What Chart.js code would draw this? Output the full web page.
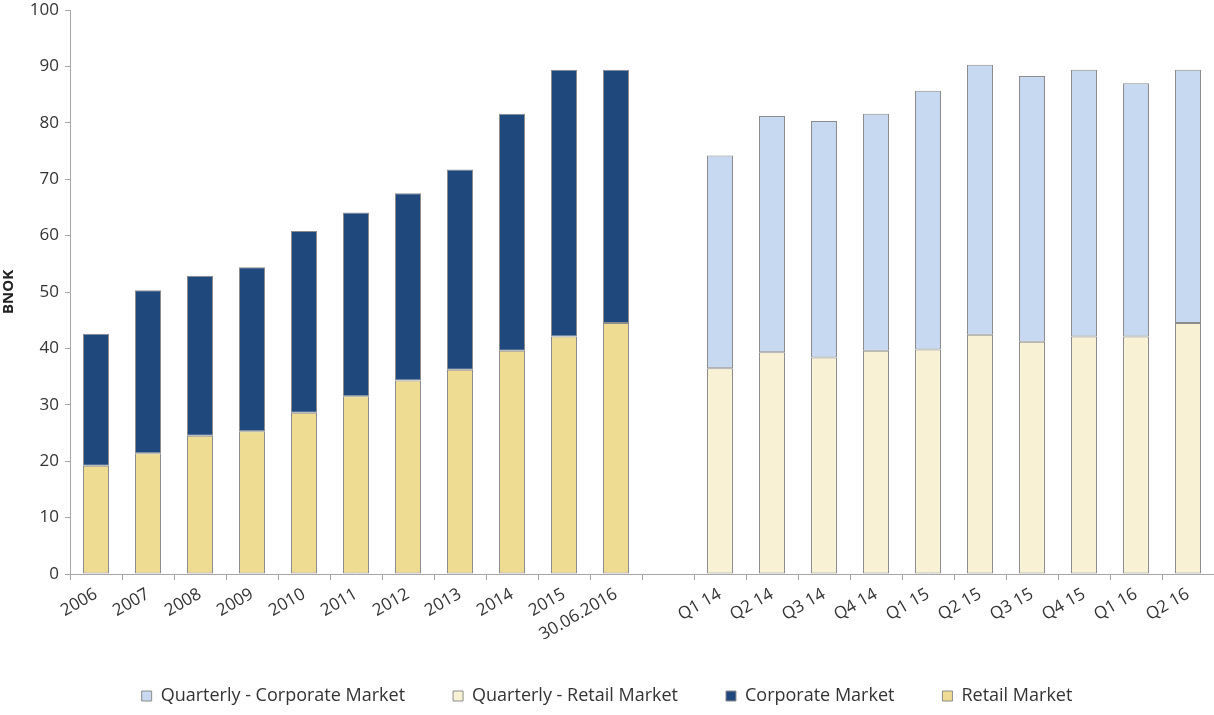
<!DOCTYPE html>
<html>
<head>
<meta charset="utf-8">
<script src="https://cdn.jsdelivr.net/npm/chart.js@4/dist/chart.umd.min.js"></script>
<style>
  html, body { margin: 0; padding: 0; background: #fff; }
  #wrap { width: 1214px; height: 715px; }
</style>
</head>
<body>
<div id="wrap"><canvas id="c"></canvas></div>
<script>
// categories: yearly part, an empty gap, then quarters
var categories = ['2006', '2007', '2008', '2009', '2010', '2011', '2012', '2013', '2014', '2015', '30.06.2016', '',
    'Q1 14', 'Q2 14', 'Q3 14', 'Q4 14', 'Q1 15', 'Q2 15', 'Q3 15', 'Q4 15', 'Q1 16', 'Q2 16'];

// yearly values (BNOK)
var retailMarket = [19.2, 21.4, 24.5, 25.3, 28.6, 31.5, 34.3, 36.2, 39.6, 42.1, 44.5, null,
    null, null, null, null, null, null, null, null, null, null];
var corporateMarket = [23.4, 28.9, 28.4, 29.1, 32.2, 32.6, 33.2, 35.5, 42.0, 47.3, 44.9, null,
    null, null, null, null, null, null, null, null, null, null];

// quarterly values (BNOK)
var quarterlyRetail = [null, null, null, null, null, null, null, null, null, null, null, null,
    36.5, 39.3, 38.4, 39.6, 39.8, 42.4, 41.2, 42.1, 42.1, 44.5];
var quarterlyCorporate = [null, null, null, null, null, null, null, null, null, null, null, null,
    37.7, 41.9, 41.9, 42.0, 45.9, 47.9, 47.1, 47.3, 44.9, 44.9];

var yTicks = [0, 10, 20, 30, 40, 50, 60, 70, 80, 90, 100];

var barBorder = '#8c8c8c';
var axisColor = '#a6a6a6';
var textColor = '#333333';

function bar(label, data, color) {
    return {
        label: label,
        data: data,
        backgroundColor: color,
        borderColor: barBorder,
        borderWidth: 1,
        borderSkipped: false,
        stack: 's',
        barPercentage: 0.5,
        categoryPercentage: 1
    };
}

new Chart(document.getElementById('c'), {
    type: 'bar',
    data: {
        labels: categories,
        // stacked bottom-up; legend reverses this
        datasets: [
            bar('Retail Market', retailMarket, '#eedc92'),
            bar('Corporate Market', corporateMarket, '#1f497d'),
            bar('Quarterly - Retail Market', quarterlyRetail, '#f8f1d4'),
            bar('Quarterly - Corporate Market', quarterlyCorporate, '#c6d9f0')
        ]
    },
    options: {
        responsive: true,
        maintainAspectRatio: false,
        animation: false,
        layout: { padding: { top: 10, right: 0, left: 0, bottom: 0 } },
        plugins: {
            tooltip: { enabled: false },
            legend: {
                position: 'bottom',
                reverse: true,
                labels: {
                    boxWidth: 10,
                    boxHeight: 10,
                    padding: 48,
                    color: textColor,
                    font: { family: 'Open Sans', size: 18 },
                    generateLabels: function(chart) {
                        // keep the grey frame round each legend box
                        var items = Chart.defaults.plugins.legend.labels.generateLabels(chart);
                        items.forEach(function(it) {
                            it.strokeStyle = barBorder;
                            it.lineWidth = 1;
                        });
                        return items;
                    }
                }
            }
        },
        scales: {
            x: {
                stacked: true,
                grid: { display: true, drawOnChartArea: false, drawTicks: true, tickLength: 6, color: axisColor, offset: true },
                border: { display: true, color: axisColor, width: 1 },
                ticks: {
                    autoSkip: false,
                    minRotation: 30,
                    maxRotation: 30,
                    padding: 4,
                    color: textColor,
                    font: { family: 'Open Sans', size: 17 }
                },
                afterFit: function(scale) { scale.height = 65; }
            },
            y: {
                stacked: true,
                min: 0,
                max: 100,
                afterBuildTicks: function(scale) {
                    scale.ticks = yTicks.map(function(v) { return { value: v }; });
                },
                grid: { display: true, drawOnChartArea: false, drawTicks: true, tickLength: 5, color: axisColor },
                border: { display: true, color: axisColor, width: 1 },
                ticks: {
                    padding: 6,
                    color: textColor,
                    font: { family: 'Open Sans', size: 17 }
                },
                title: {
                    display: true,
                    text: 'BNOK',
                    color: '#222',
                    padding: { top: 0, bottom: 2 },
                    font: { family: 'Open Sans', size: 15, weight: 'bold' }
                },
                afterFit: function(scale) {
                    scale.width = 70;
                    // let the top label hang over the padding
                    scale.paddingTop = 0;
                    scale.paddingBottom = 0;
                }
            }
        }
    }
});
</script>
</body>
</html>
